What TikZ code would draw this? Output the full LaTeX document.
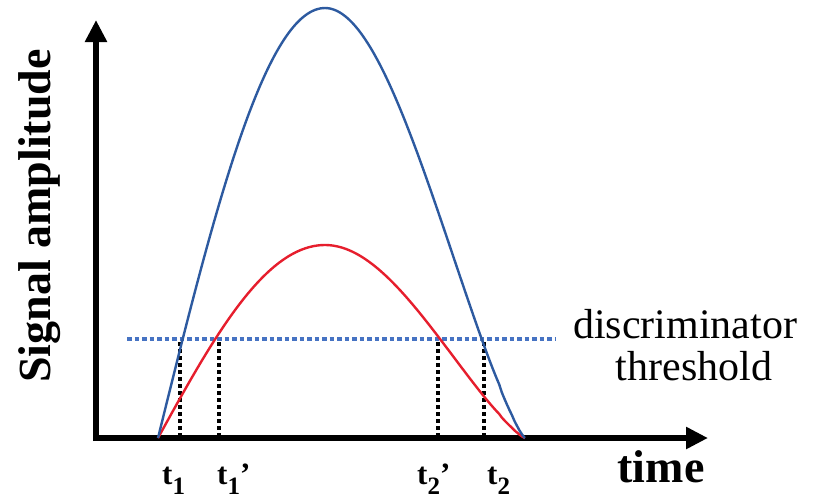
\documentclass[tikz,border=0pt]{standalone}
\usepackage{fontspec}
\setmainfont{Liberation Serif}
\usetikzlibrary{arrows.meta}
\definecolor{curveblue}{RGB}{45,90,160}
\definecolor{curvered}{RGB}{230,30,45}
\definecolor{threshblue}{RGB}{70,115,195}
\tikzset{
  axis/.style={line width=6pt, -{Triangle[width=21pt,length=22pt]}},
  curve/.style={line width=2.4pt, line join=round},
  thresh/.style={threshblue, line width=4.5pt, dash pattern=on 4.5pt off 3pt},
  vdots/.style={black, line width=4.5pt, dash pattern=on 4pt off 3pt},
  tlabel/.style={anchor=base west, inner sep=0pt, font=\fontsize{31}{31}\selectfont\bfseries},
  plain/.style={anchor=base, inner sep=0pt, font=\fontsize{42}{42}\selectfont}
}
\newcommand{\tsub}[1]{\raisebox{-10pt}{\fontsize{25}{25}\selectfont\bfseries #1}}
\begin{document}
\begin{tikzpicture}[x=1pt,y=-1pt]
\useasboundingbox (0,0) rectangle (814,499);
% axes
\coordinate (ybot) at (96,441);
\coordinate (ytop) at (96,20);
\coordinate (xbeg) at (93,438);
\coordinate (xend) at (708,438);
\draw[axis] (ybot) -- (ytop);
\draw[axis] (xbeg) -- (xend);
% threshold
\coordinate (th1) at (127,339);
\coordinate (th2) at (555,339);
\draw[thresh] (th1) -- (th2);
% vertical dotted lines
\foreach \n/\x in {a/180,b/219,c/438,d/484}{
  \coordinate (\n top) at (\x,342);
  \coordinate (\n bot) at (\x,436);
  \draw[vdots] (\n top) -- (\n bot);
}
% curves
\coordinate (cstart) at (158,438);
\coordinate (cend) at (525,438);
\draw[curvered, curve] (cstart)
  -- plot[domain=158:325, samples=70] (\x, {438-193*sin(90*(\x-158)/167)})
  -- plot[domain=325:524.5, samples=80] (\x, {438-193*sin(90*pow((525-\x)/200,1.25))})
  -- (cend);
\draw[curveblue, curve] (cstart)
  -- plot[domain=158:325, samples=70] (\x, {438-430*sin(90*(\x-158)/167)})
  -- plot[domain=325:524.5, samples=80] (\x, {438-430*sin(90*pow((525-\x)/200,1.25))})
  -- (cend);
% labels
\node[plain, font=\fontsize{46}{46}\selectfont\bfseries, rotate=90, anchor=center] (ylab) at (40,216) {Signal amplitude};
\node[plain] (disc) at (685,338) {discriminator};
\node[plain] (thr) at (694,380) {threshold};
\node[plain, font=\fontsize{46}{46}\selectfont\bfseries] (time) at (661,482) {time};
\node[tlabel] (t1) at (162,484) {t\tsub{1}};
\node[tlabel] (t1p) at (217,484) {t\tsub{1}’};
\node[tlabel] (t2p) at (417,484) {t\tsub{2}’};
\node[tlabel] (t2) at (487,484) {t\tsub{2}};
\end{tikzpicture}
\end{document}
